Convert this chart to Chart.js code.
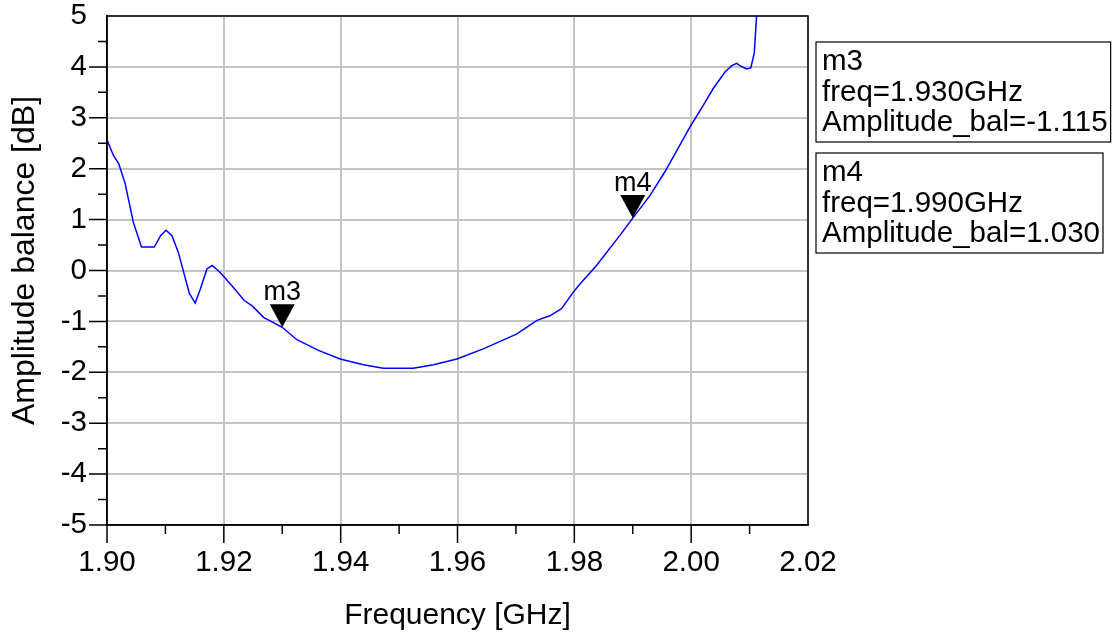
<!DOCTYPE html>
<html><head><meta charset="utf-8">
<script src="https://cdn.jsdelivr.net/npm/chart.js@4.4.0/dist/chart.umd.min.js"></script>
<style>html,body{margin:0;padding:0;background:#fff}#wrap{width:1117px;height:634px;position:relative}</style>
</head><body><div id="wrap"><canvas id="c"></canvas></div>
<script>
// ---- data ----
const freqGHz = [1.9000,1.9011,1.9020,1.9031,1.9045,1.9059,1.9081,1.9092,1.9101,1.9111,1.9122,1.9141,1.9151,1.9160,1.9171,1.9180,1.9191,1.9200,1.9216,1.9235,1.9248,1.9268,1.9300,1.9325,1.9362,1.9399,1.9439,1.9473,1.9524,1.9559,1.9599,1.9644,1.9701,1.9736,1.9758,1.9778,1.9798,1.9810,1.9838,1.9878,1.9900,1.9930,1.9955,1.9984,1.9998,2.0021,2.0038,2.0058,2.0069,2.0078,2.0084,2.0095,2.0102,2.0108,2.0112,2.0116];
const amplitudeDb = [2.57,2.26,2.10,1.71,0.95,0.46,0.46,0.69,0.79,0.69,0.36,-0.45,-0.64,-0.36,0.03,0.10,-0.01,-0.12,-0.33,-0.59,-0.69,-0.92,-1.115,-1.36,-1.57,-1.74,-1.85,-1.92,-1.92,-1.85,-1.74,-1.54,-1.25,-0.98,-0.89,-0.75,-0.43,-0.26,0.10,0.69,1.03,1.48,1.94,2.53,2.82,3.25,3.58,3.90,4.02,4.07,4.02,3.96,3.98,4.27,5.0,6.0];
const markerNames = ['m3','m4'];
const markerFreq = [1.930, 1.990];
const markerAmp = [-1.115, 1.030];
const xRange = [1.90, 2.02];
const yRange = [-5, 5];
const xTitle = 'Frequency [GHz]';
const yTitle = 'Amplitude balance [dB]';

const FONT = '"Liberation Sans", Arial, sans-serif';
const points = freqGHz.map((f, i) => ({x: f, y: amplitudeDb[i]}));

const isMajorX = v => Math.round(v * 100) % 2 === 0;
const isMajorY = v => Math.abs(v - Math.round(v)) < 1e-6;

const decor = {
  id: 'decor',
  afterDraw(chart) {
    const ctx = chart.ctx, a = chart.chartArea;
    const xs = chart.scales.x, ys = chart.scales.y;
    ctx.save();
    // frame
    ctx.strokeStyle = '#000'; ctx.lineWidth = 1.5;
    ctx.strokeRect(a.left, a.top, a.right - a.left, a.bottom - a.top);
    // ticks
    ctx.beginPath();
    xs.ticks.forEach(t => {
      if (Math.abs(t.value - xRange[1]) < 1e-6) return;
      const px = xs.getPixelForValue(t.value);
      const len = isMajorX(t.value) ? 18 : 9;
      ctx.moveTo(px, a.bottom); ctx.lineTo(px, a.bottom + len);
    });
    ys.ticks.forEach(t => {
      if (Math.abs(t.value - yRange[1]) < 1e-6) return;
      const py = ys.getPixelForValue(t.value);
      const len = isMajorY(t.value) ? 18 : 9;
      ctx.moveTo(a.left, py); ctx.lineTo(a.left - len, py);
    });
    ctx.stroke();
    // y axis title
    ctx.fillStyle = '#000';
    ctx.save();
    ctx.font = '32px ' + FONT;
    ctx.textAlign = 'center'; ctx.textBaseline = 'middle';
    ctx.translate(a.left - 82, (a.top + a.bottom) / 2 - 10);
    ctx.rotate(-Math.PI / 2);
    ctx.fillText(yTitle, 0, 0);
    ctx.restore();
    // markers
    ctx.font = '27px ' + FONT;
    ctx.textAlign = 'center'; ctx.textBaseline = 'alphabetic';
    markerNames.forEach((n, i) => {
      const px = xs.getPixelForValue(markerFreq[i]);
      const py = ys.getPixelForValue(markerAmp[i]);
      ctx.beginPath();
      ctx.moveTo(px, py); ctx.lineTo(px - 12.5, py - 23); ctx.lineTo(px + 12.5, py - 23); ctx.closePath();
      ctx.fill();
      ctx.fillText(n, px, py - 27);
    });
    // marker readout boxes
    ctx.font = '29.5px ' + FONT;
    ctx.textAlign = 'left';
    markerNames.forEach((n, i) => {
      const lines = [n, 'freq=' + markerFreq[i].toFixed(3) + 'GHz', 'Amplitude_bal=' + markerAmp[i].toFixed(3)];
      const w = Math.max(...lines.map(s => ctx.measureText(s).width)) + 9;
      const left = a.right + 8, top = a.top + 26 + i * 111;
      ctx.lineWidth = 1.2; ctx.strokeStyle = '#000';
      ctx.strokeRect(left, top, w, 100);
      lines.forEach((s, k) => ctx.fillText(s, left + 6, top + 28 + k * 30.5));
    });
    ctx.restore();
  }
};

new Chart(document.getElementById('c'), {
  type: 'scatter',
  data: { datasets: [{ data: points, showLine: true, borderColor: '#0000ff', borderWidth: 1.5, pointRadius: 0, tension: 0 }] },
  options: {
    responsive: true, maintainAspectRatio: false, animation: false,
    layout: { padding: { top: 16, right: 309, left: 0, bottom: 0 } },
    plugins: { legend: { display: false }, tooltip: { enabled: false } },
    scales: {
      x: {
        type: 'linear', min: xRange[0], max: xRange[1],
        afterFit: s => { s.height = 109; s.paddingLeft = 0; s.paddingRight = 0; },
        ticks: { stepSize: 0.01, autoSkip: false, maxRotation: 0, padding: 2, color: '#000',
                 font: { family: FONT, size: 29.5 },
                 callback: v => isMajorX(v) ? (Math.round(v * 100) / 100).toFixed(2) : '' },
        grid: { color: c => (c.tick && isMajorX(c.tick.value)) ? '#c4c4c4' : 'rgba(0,0,0,0)', lineWidth: 2,
                drawTicks: true, tickLength: 18, tickColor: 'rgba(0,0,0,0)' },
        border: { display: true, color: '#000', width: 1.5 },
        title: { display: true, text: xTitle, color: '#000', font: { family: FONT, size: 30 }, padding: { top: 5, bottom: 0 } }
      },
      y: {
        type: 'linear', min: yRange[0], max: yRange[1],
        afterFit: s => { s.width = 107; s.paddingTop = 0; s.paddingBottom = 0; },
        ticks: { stepSize: 0.5, autoSkip: false, padding: 2, color: '#000',
                 font: { family: FONT, size: 29.5 },
                 callback: v => isMajorY(v) ? String(Math.round(v)) : '' },
        grid: { color: c => (c.tick && isMajorY(c.tick.value)) ? '#c4c4c4' : 'rgba(0,0,0,0)', lineWidth: 2,
                drawTicks: true, tickLength: 18, tickColor: 'rgba(0,0,0,0)' },
        border: { display: true, color: '#000', width: 1.5 },
        title: { display: false }
      }
    }
  },
  plugins: [decor]
});
</script>
</body></html>
